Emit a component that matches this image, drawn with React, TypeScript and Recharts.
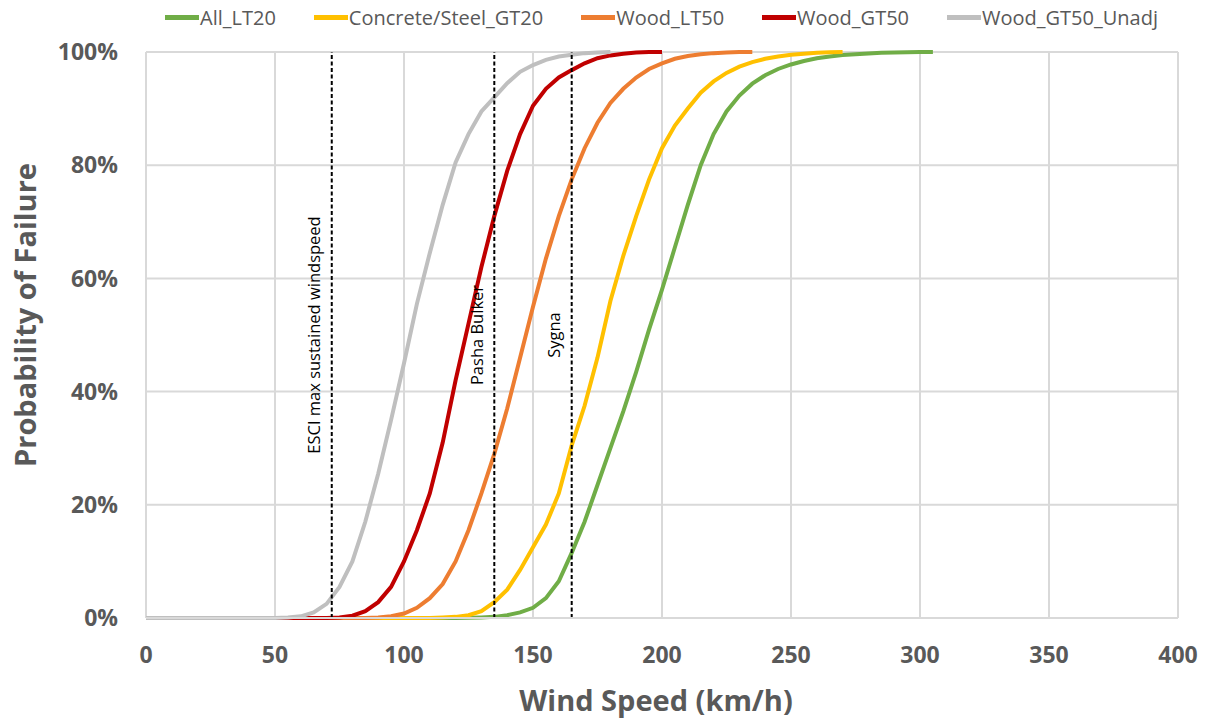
import React from "react";
import {
  LineChart,
  Line,
  XAxis,
  YAxis,
  CartesianGrid,
  ReferenceLine,
  Label,
} from "recharts";

// wind speed (km/h), 5 km/h steps
const speeds = [
  0, 5, 10, 15, 20, 25, 30, 35, 40, 45,
  50, 55, 60, 65, 70, 75, 80, 85, 90, 95,
  100, 105, 110, 115, 120, 125, 130, 135, 140, 145,
  150, 155, 160, 165, 170, 175, 180, 185, 190, 195,
  200, 205, 210, 215, 220, 225, 230, 235, 240, 245,
  250, 255, 260, 265, 270, 275, 280, 285, 290, 295,
  300, 305,
];

// probability of failure (%); each curve stops once it has reached 100%
const allLT20 = [
  0, 0, 0, 0, 0, 0, 0, 0, 0, 0,
  0, 0, 0, 0, 0, 0, 0, 0, 0, 0,
  0, 0, 0, 0, 0, 0.05, 0.1, 0.2, 0.5, 1,
  1.8, 3.5, 6.5, 11.5, 17, 23.5, 30, 36.5, 43.5, 51,
  58, 65.5, 73, 80, 85.5, 89.5, 92.3, 94.4, 95.9, 97,
  97.8, 98.4, 98.9, 99.2, 99.45, 99.6, 99.75, 99.85, 99.9, 99.95,
  100, 100,
];

const concreteSteelGT20 = [
  0, 0, 0, 0, 0, 0, 0, 0, 0, 0,
  0, 0, 0, 0, 0, 0, 0, 0, 0, 0,
  0, 0, 0, 0.1, 0.2, 0.5, 1.2, 2.8, 5, 8.5,
  12.5, 16.5, 22, 30.5, 37.5, 46, 56, 64, 71, 77.5,
  83, 87, 90, 92.8, 94.8, 96.3, 97.4, 98.2, 98.8, 99.2,
  99.5, 99.7, 99.85, 99.95, 100,
];

const woodLT50 = [
  0, 0, 0, 0, 0, 0, 0, 0, 0, 0,
  0, 0, 0, 0, 0, 0, 0, 0, 0.1, 0.3,
  0.8, 1.8, 3.5, 6, 10, 15.5, 22, 29, 37, 46,
  55, 63.5, 71, 77.5, 83, 87.5, 91, 93.5, 95.5, 97,
  98, 98.8, 99.3, 99.6, 99.8, 99.9, 100, 100,
];

const woodGT50 = [
  0, 0, 0, 0, 0, 0, 0, 0, 0, 0,
  0, 0, 0, 0, 0, 0.1, 0.4, 1.2, 2.8, 5.5,
  10, 15.5, 22, 31, 42, 52, 62, 71, 79, 85.5,
  90.5, 93.5, 95.5, 96.8, 98, 98.9, 99.4, 99.7, 99.9, 100,
  100,
];

const woodGT50Unadj = [
  0, 0, 0, 0, 0, 0, 0, 0, 0, 0,
  0, 0.1, 0.3, 1, 2.5, 5.5, 10, 17, 25.5, 35,
  45, 55.5, 64.5, 73, 80.5, 85.5, 89.5, 92, 94.5, 96.5,
  97.7, 98.6, 99.2, 99.5, 99.8, 99.9, 100,
];

const xTicks = [0, 50, 100, 150, 200, 250, 300, 350, 400];
const yTicks = [0, 20, 40, 60, 80, 100];

const events = [
  { speed: 72, name: "ESCI max sustained windspeed" },
  { speed: 135, name: "Pasha Bulker" },
  { speed: 165, name: "Sygna" },
];

const series = [
  { key: "allLT20", name: "All_LT20", color: "#70ad47", values: allLT20 },
  { key: "concreteSteelGT20", name: "Concrete/Steel_GT20", color: "#ffc000", values: concreteSteelGT20 },
  { key: "woodLT50", name: "Wood_LT50", color: "#ed7d31", values: woodLT50 },
  { key: "woodGT50", name: "Wood_GT50", color: "#c00000", values: woodGT50 },
  { key: "woodGT50Unadj", name: "Wood_GT50_Unadj", color: "#bfbfbf", values: woodGT50Unadj },
];

const rows = speeds.map(function (s, i) {
  const row: any = { speed: s };
  series.forEach(function (sr) {
    if (i < sr.values.length) row[sr.key] = sr.values[i];
  });
  return row;
});

const FONT = "'Open Sans', 'DejaVu Sans', sans-serif";
const GREY_TEXT = "#595959";

function eventLabel(text: string) {
  return function (props: any) {
    const vb = props.viewBox || {};
    const x = vb.x - 18;
    const y = vb.y + vb.height / 2;
    return (
      <text
        x={x}
        y={y}
        transform={"rotate(-90 " + x + " " + y + ")"}
        textAnchor="middle"
        dominantBaseline="central"
        fontFamily={FONT}
        fontSize={16.5}
        fill="#000"
      >
        {text}
      </text>
    );
  };
}

function XTitle() {
  return (
    <text x={656} y={711} textAnchor="middle" fontFamily={FONT} fontWeight={700} fontSize={29} fill={GREY_TEXT}>
      Wind Speed (km/h)
    </text>
  );
}

function YTitle() {
  return (
    <text
      x={36}
      y={315}
      transform="rotate(-90 36 315)"
      textAnchor="middle"
      fontFamily={FONT}
      fontWeight={700}
      fontSize={29}
      fill={GREY_TEXT}
    >
      Probability of Failure
    </text>
  );
}

function TopLegend() {
  return (
    <div
      style={{
        position: "absolute",
        left: 165,
        top: 4,
        display: "flex",
        alignItems: "center",
        fontFamily: FONT,
        fontSize: 20,
        color: GREY_TEXT,
        whiteSpace: "nowrap",
      }}
    >
      {series.map(function (s, i) {
        return (
          <div key={s.key} style={{ display: "flex", alignItems: "center", marginLeft: i === 0 ? 0 : 38 }}>
            <span style={{ display: "inline-block", width: 34, height: 5, background: s.color, marginRight: 1 }} />
            <span>{s.name}</span>
          </div>
        );
      })}
    </div>
  );
}

export default function App() {
  return (
    <div style={{ position: "absolute", left: 0, top: 0, width: 1210, height: 722, background: "#fff" }}>
      <LineChart
        width={1210}
        height={722}
        data={rows}
        margin={{ top: 52, right: 32, bottom: 64, left: 0 }}
      >
        <CartesianGrid stroke="#d9d9d9" strokeWidth={2} />
        <XAxis
          dataKey="speed"
          type="number"
          domain={[0, 400]}
          ticks={xTicks}
          height={40}
          tickLine={false}
          tickSize={0}
          tickMargin={29}
          axisLine={{ stroke: "#d9d9d9", strokeWidth: 2 }}
          tick={{ fontFamily: FONT, fontSize: 23, fontWeight: 700, fill: GREY_TEXT }}
        >
          <Label content={XTitle} />
        </XAxis>
        <YAxis
          type="number"
          domain={[0, 100]}
          ticks={yTicks}
          width={146}
          tickLine={false}
          tickSize={0}
          tickMargin={28}
          axisLine={false}
          tickFormatter={function (v: number) { return v + "%"; }}
          tick={{ fontFamily: FONT, fontSize: 23, fontWeight: 700, fill: GREY_TEXT }}
        >
          <Label content={YTitle} />
        </YAxis>
        {series.map(function (s) {
          return (
            <Line
              key={s.key}
              type="linear"
              dataKey={s.key}
              name={s.name}
              stroke={s.color}
              strokeWidth={4}
              dot={false}
              activeDot={false}
              isAnimationActive={false}
            />
          );
        })}
        {events.map(function (e) {
          return (
            <ReferenceLine
              key={e.name}
              x={e.speed}
              stroke="#000"
              strokeWidth={2}
              strokeDasharray="4 2.5"
              label={eventLabel(e.name)}
            />
          );
        })}
      </LineChart>
      <TopLegend />
    </div>
  );
}
